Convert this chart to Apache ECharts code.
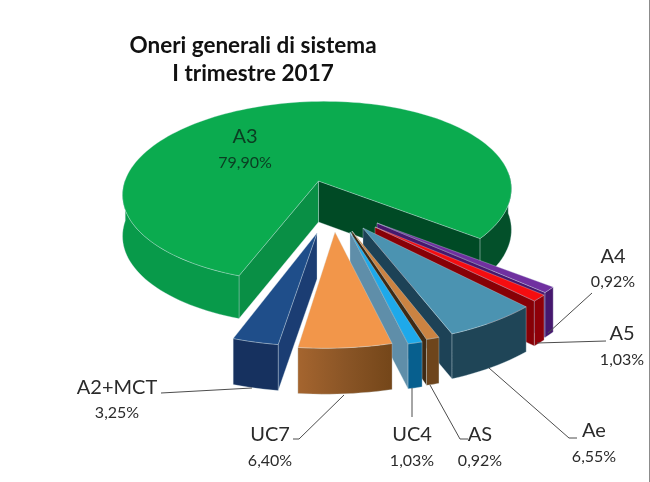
<!DOCTYPE html>
<html><head><meta charset="utf-8">
<style>html,body{margin:0;padding:0;background:#fff}#c{width:650px;height:482px}</style>
<script src="https://cdn.jsdelivr.net/npm/echarts@6/dist/echarts.min.js"></script>
</head><body><div id="c"></div>
<script>
var categories = ['A4','A5','Ae','AS','UC4','UC7','A2+MCT','A3'];
var values = [0.92,1.03,6.55,0.92,1.03,6.40,3.25,79.90];
var titleLines = ['Oneri generali di sistema','I trimestre 2017'];

// Layout only (screen geometry of the tilted, exploded pie; slice angles come from values)
var startAngle = 129.6;
var sliceGeom = {
  'A4':     {ax:377,ay:223,rx:222,ry:115,sx:8,  sy:-12, d:45},
  'A5':     {ax:375,ay:227,rx:222,ry:115,sx:9.5,sy:-14, d:45},
  'Ae':     {ax:363,ay:228,rx:222,ry:115,sx:14.7,sy:-7, d:45},
  'AS':     {ax:352,ay:231,rx:230,ry:113,sx:9.6,sy:0,   d:46},
  'UC4':    {ax:350,ay:232,rx:226,ry:115,sx:8.3,sy:-1.5,d:45},
  'UC7':    {ax:335,ay:232,rx:236,ry:116,sx:5,  sy:-7.5,d:46},
  'A2+MCT': {ax:317,ay:233,rx:229,ry:113,sx:2,  sy:-2,  d:46},
  'A3':     {ax:318.5,ay:181,ox:-2,rx:193,ry:89, sx:4,  sy:-5,   d:41, dv:2, k:0.12}
};
var sliceStyle = {
  'A4':     {top:'#7030a0',rim:'#46186e',wall:'#46186e',walls:['end']},
  'A5':     {top:'#f50d10',rim:'#8f0008',wall:'#870006',walls:['end']},
  'Ae':     {top:'#4b93b1',rim:'#1f4557',wall:'#1d4256',walls:['end']},
  'AS':     {top:'#cb8342',rim:'#6e451c',wall:'#3f2a14',walls:['end']},
  'UC4':    {top:'#1ea9ea',rim:'#075f8e',wall:'#5f8ea9',walls:['end']},
  'UC7':    {top:'#f2964a',rim:['#a5652f','#8a5526','#744619'],wall:'#8a5526',walls:[]},
  'A2+MCT': {top:'#1f4e8a',rim:'#16315f',wall:'#1b3d73',walls:['start']},
  'A3':     {top:'#0bab4f',rim:'#089a4a',rim2:'#03502a',wall:'#004a25',wall2:'#098f45',walls:['start','end']}
};
var labelPos = {
  'A4':     {x:613,y:257,py:282},
  'A5':     {x:622,y:334,py:360},
  'Ae':     {x:594,y:431,py:457},
  'AS':     {x:480,y:435,py:461},
  'UC4':    {x:412,y:435,py:461},
  'UC7':    {x:270,y:435,py:461},
  'A2+MCT': {x:117,y:388,py:413},
  'A3':     {x:245,y:137,py:163,inside:true}
};
var leaders = {
  'A4':[[548,333],[592,293]],
  'A5':[[537,343],[606,341]],
  'Ae':[[489,368],[569,438],[577,438]],
  'AS':[[430,385],[460,439],[468,439]],
  'UC4':[[412,388],[412,417]],
  'UC7':[[344,395],[299,439],[293,439]],
  'A2+MCT':[[252,388],[161,393]]
};

var total = values.reduce(function(a,b){return a+b;},0);
function sliceAngles(i){
  var s = startAngle;
  for (var j=0;j<i;j++) s += values[j]/total*360;
  return [s, s + values[i]/total*360];
}
function project(g,deg){
  var t = deg*Math.PI/180, u = Math.sin(t), v = -Math.cos(t);
  var s = g.k ? 1/(1-g.k*v) : 1;
  return [g.ax + (g.ox||0) + g.rx*u*s + g.sx*v, g.ay + g.ry*v*s + g.sy*u, v];
}
function depth(g,v){ return g.d + (g.dv||0)*(v||0); }
function down(p,g){ return [p[0], p[1]+depth(g,p[2])]; }
function poly(points, fill){
  return {type:'polygon', shape:{points:points},
    style:{fill:fill, stroke:'rgba(215,230,235,0.45)', lineWidth:0.7, lineJoin:'round'}, silent:true};
}
function arcPts(g,a0,a1){
  var n = Math.max(2,Math.ceil((a1-a0)/2)), r=[];
  for (var i=0;i<=n;i++) r.push(project(g,a0+(a1-a0)*i/n));
  return r;
}
function rimFill(c){
  if (!Array.isArray(c)) return c;
  return {type:'linear',x:0,y:0,x2:1,y2:0,colorStops:c.map(function(col,i){return {offset:i/(c.length-1),color:col};})};
}
function rim(g,pts,fill){
  var top = pts.map(function(p){return [p[0],p[1]];});
  var bot = pts.map(function(p){return down(p,g);}).reverse();
  return poly(top.concat(bot),fill);
}
function flat(pts){ return pts.map(function(p){return [p[0],p[1]];}); }
function renderItem(params, api){
  var i = api.value(0), val = api.value(1), name = categories[i];
  var g = sliceGeom[name], st = sliceStyle[name], lp = labelPos[name];
  var ang = sliceAngles(i), a0=ang[0], a1=ang[1];
  var apex=[g.ax,g.ay], apexB=[g.ax,g.ay+g.d];
  var kids=[];
  function wall(deg,fill){
    var p=project(g,deg);
    kids.push(poly([apex,[p[0],p[1]],down(p,g),apexB],fill));
  }
  if (st.walls.indexOf('end')>=0) wall(a1, st.wall);
  if (st.walls.indexOf('start')>=0) wall(a0, st.wall2 || st.wall);
  if (name==='A3'){
    kids.push(rim(g,arcPts(g,a1-42,a1),rimFill(st.rim2)));
    kids.push(rim(g,arcPts(g,a0,a0+72),rimFill(st.rim)));
  } else {
    kids.push(rim(g,arcPts(g,a0,a1),rimFill(st.rim)));
  }
  kids.push(poly([apex].concat(flat(arcPts(g,a0,a1))),st.top));
  var ld = leaders[name];
  if (ld) kids.push({type:'polyline',shape:{points:ld},style:{fill:null,stroke:'#4d4d4d',lineWidth:1},silent:true});
  var pct = val.toFixed(2).replace('.',',')+'%';
  var tc = lp.inside ? '#0b3d22' : '#2b2b2b';
  kids.push({type:'text',style:{text:name,x:lp.x,y:lp.y,align:'center',verticalAlign:'middle',fill:tc,font:'20px Lato'},silent:true});
  kids.push({type:'text',style:{text:pct,x:lp.x,y:lp.py,align:'center',verticalAlign:'middle',fill:tc,font:'16px Lato'},silent:true});
  return {type:'group',children:kids};
}
var chart = echarts.init(document.getElementById('c'));
chart.setOption({
  animation:false,
  backgroundColor:'#ffffff',
  title:{text:titleLines.join('\n'),left:248,top:27,textAlign:'center',
    textStyle:{fontFamily:'Lato',fontWeight:'bold',fontSize:22.5,lineHeight:28,color:'#111'}},
  graphic:[{type:'rect',shape:{x:649,y:0,width:1,height:482},style:{fill:'#8c8c8c'},silent:true}],
  series:[{type:'custom',coordinateSystem:'none',renderItem:renderItem,silent:true,
    data:[7,0,1,2,3,4,5,6].map(function(i){return {value:[i,values[i]],name:categories[i]};})}]
});
</script></body></html>
